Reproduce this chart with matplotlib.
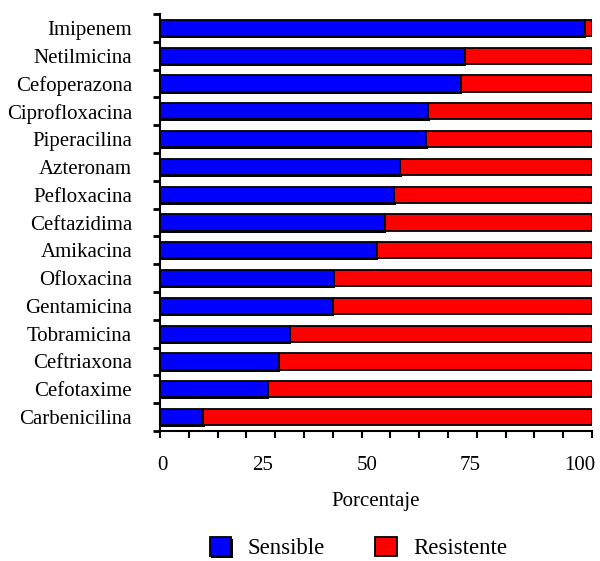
import numpy as np
import matplotlib
matplotlib.use("Agg")
import matplotlib.pyplot as plt
import matplotlib.patheffects as pe

# antibiotics, top to bottom
antibioticos = ["Imipenem", "Netilmicina", "Cefoperazona", "Ciprofloxacina",
                "Piperacilina", "Azteronam", "Pefloxacina", "Ceftazidima",
                "Amikacina", "Ofloxacina", "Gentamicina", "Tobramicina",
                "Ceftriaxona", "Cefotaxime", "Carbenicilina"]
# % sensible, resistant is the rest
sensible = [98.4, 70.6, 69.7, 62.1, 61.6, 55.6, 54.2, 52.1,
            50.2, 40.3, 40.0, 30.1, 27.5, 25.0, 10.0]
resistente = [100 - s for s in sensible]

# x tick labels as drawn in the original (slightly off the tick marks)
xlabels = ["0", "25", "50", "75", "100"]
xlabel_pos = [0.5, 23.8, 47.9, 71.8, 97.2]

plt.rcParams['font.family'] = ['Liberation Serif', 'DejaVu Serif']
fs = 15

fig = plt.figure(figsize=(6.0, 5.61), dpi=100)
ax = fig.add_axes([160/600, 1-431/561, 432/600, 417/561])

y = np.arange(len(antibioticos))
h = 0.58
shadow = [pe.SimplePatchShadow(offset=(1, -1.5), shadow_rgbFace='black', alpha=1), pe.Normal()]
b1 = ax.barh(y, sensible, height=h, color='#0000ff', edgecolor='black', linewidth=1.3, label='Sensible')
b2 = ax.barh(y, resistente, left=sensible, height=h, color='#ff0000', edgecolor='black', linewidth=1.3, label='Resistente')
for p in b1:
    p.set_path_effects(shadow)

ax.set_ylim(len(antibioticos) - 0.5, -0.5)
ax.set_xlim(0, 100)

ax.set_yticks(y)
ax.set_yticklabels(antibioticos, fontsize=fs)
ax.set_yticks(np.arange(-0.5, len(antibioticos), 1), minor=True)
ax.tick_params(axis='y', which='major', length=0, pad=20)
ax.tick_params(axis='y', which='minor', length=5, width=2, direction='out')

ax.set_xticks(np.linspace(0, 100, 16))
ax.set_xticklabels([])
ax.set_xticks(xlabel_pos, minor=True)
ax.set_xticklabels(xlabels, minor=True, fontsize=fs)
ax.tick_params(axis='x', which='major', length=5, width=1.5, direction='out')
ax.tick_params(axis='x', which='minor', length=0, pad=18)

ax.set_xlabel("Porcentaje", fontsize=fs, labelpad=12)

for s in ['top', 'right']:
    ax.spines[s].set_visible(False)
ax.spines['left'].set_linewidth(1.5)
ax.spines['bottom'].set_linewidth(1.5)

fig.legend(handles=[b1, b2], loc='center', bbox_to_anchor=(0.597, 1 - 548/561),
           ncol=2, frameon=False, fontsize=16.5, handlelength=0.95, handleheight=0.95,
           handletextpad=0.7, columnspacing=2.2)

fig.savefig("out.png", dpi=100)
